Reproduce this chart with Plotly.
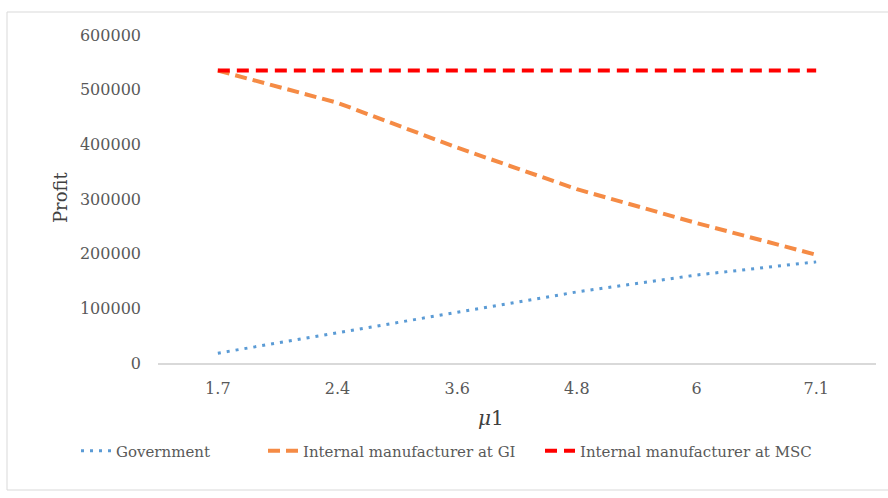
import plotly.graph_objects as go

# Profit of each party against the parameter mu1
mu1_labels = ["1.7", "2.4", "3.6", "4.8", "6", "7.1"]
government = [18000, 55000, 92000, 130000, 161000, 185000]
manufacturer_gi = [535000, 476000, 394000, 318000, 256000, 198000]
manufacturer_msc = [535000, 535000, 535000, 535000, 535000, 535000]

y_ticks = [0, 100000, 200000, 300000, 400000, 500000, 600000]

W, H = 888, 498
L, R, T, B = 158, 12, 35, 135
plot_w = W - L - R
plot_h = H - T - B


def px_x(px):
    return (px - L) / plot_w


def px_y(py):
    return (H - B - py) / plot_h


TEXT = "#595959"
SERIF = "DejaVu Serif, Liberation Serif, serif"

fig = go.Figure()
fig.add_trace(go.Scatter(
    x=mu1_labels, y=government, name="Government", mode="lines",
    line=dict(color="#5B9BD5", width=3, dash="3px,6px"), legend="legend",
))
fig.add_trace(go.Scatter(
    x=mu1_labels, y=manufacturer_gi, name="Internal manufacturer at GI", mode="lines",
    line=dict(color="#F58B45", width=4, dash="12px,6px"), legend="legend2",
))
fig.add_trace(go.Scatter(
    x=mu1_labels, y=manufacturer_msc, name="Internal manufacturer at MSC", mode="lines",
    line=dict(color="#FF0000", width=4, dash="12px,7px"), legend="legend3",
))


def legend_box(left_px):
    return dict(
        orientation="h", x=px_x(left_px), y=px_y(451), xanchor="left", yanchor="middle",
        font=dict(size=15, color=TEXT, family=SERIF), bgcolor="rgba(0,0,0,0)",
    )


fig.update_layout(
    width=W, height=H,
    margin=dict(l=L, r=R, t=T, b=B, pad=0),
    paper_bgcolor="white", plot_bgcolor="white",
    font=dict(family=SERIF, color=TEXT),
    showlegend=True,
    legend=legend_box(76),
    legend2=legend_box(263),
    legend3=legend_box(540),
    xaxis=dict(
        type="category", range=[-0.5, 5.5],
        showline=True, linecolor="#D9D9D9", linewidth=1.5,
        showgrid=False, zeroline=False, ticks="",
        tickfont=dict(size=16, color=TEXT, family=SERIF),
        ticklabelstandoff=10,
    ),
    yaxis=dict(
        range=[0, 600000], tickvals=y_ticks, tickformat="d",
        showline=False, showgrid=False, zeroline=False, ticks="",
        tickfont=dict(size=16, color=TEXT, family=SERIF),
        ticklabelstandoff=16,
    ),
    shapes=[dict(
        type="rect", xref="paper", yref="paper",
        x0=px_x(7), x1=px_x(900), y0=px_y(490), y1=px_y(12),
        line=dict(color="#D9D9D9", width=1), fillcolor="rgba(0,0,0,0)", layer="below",
    )],
    annotations=[
        dict(text="Profit", xref="paper", yref="paper", x=px_x(60), y=px_y(197),
             textangle=-90, showarrow=False, xanchor="center", yanchor="middle",
             font=dict(size=18, color="#404040", family=SERIF)),
        dict(text="<i>μ</i>1", xref="paper", yref="paper", x=px_x(491), y=px_y(418),
             showarrow=False, xanchor="center", yanchor="middle",
             font=dict(size=20, color="#404040", family=SERIF)),
    ],
)

fig.write_html("out.html")
